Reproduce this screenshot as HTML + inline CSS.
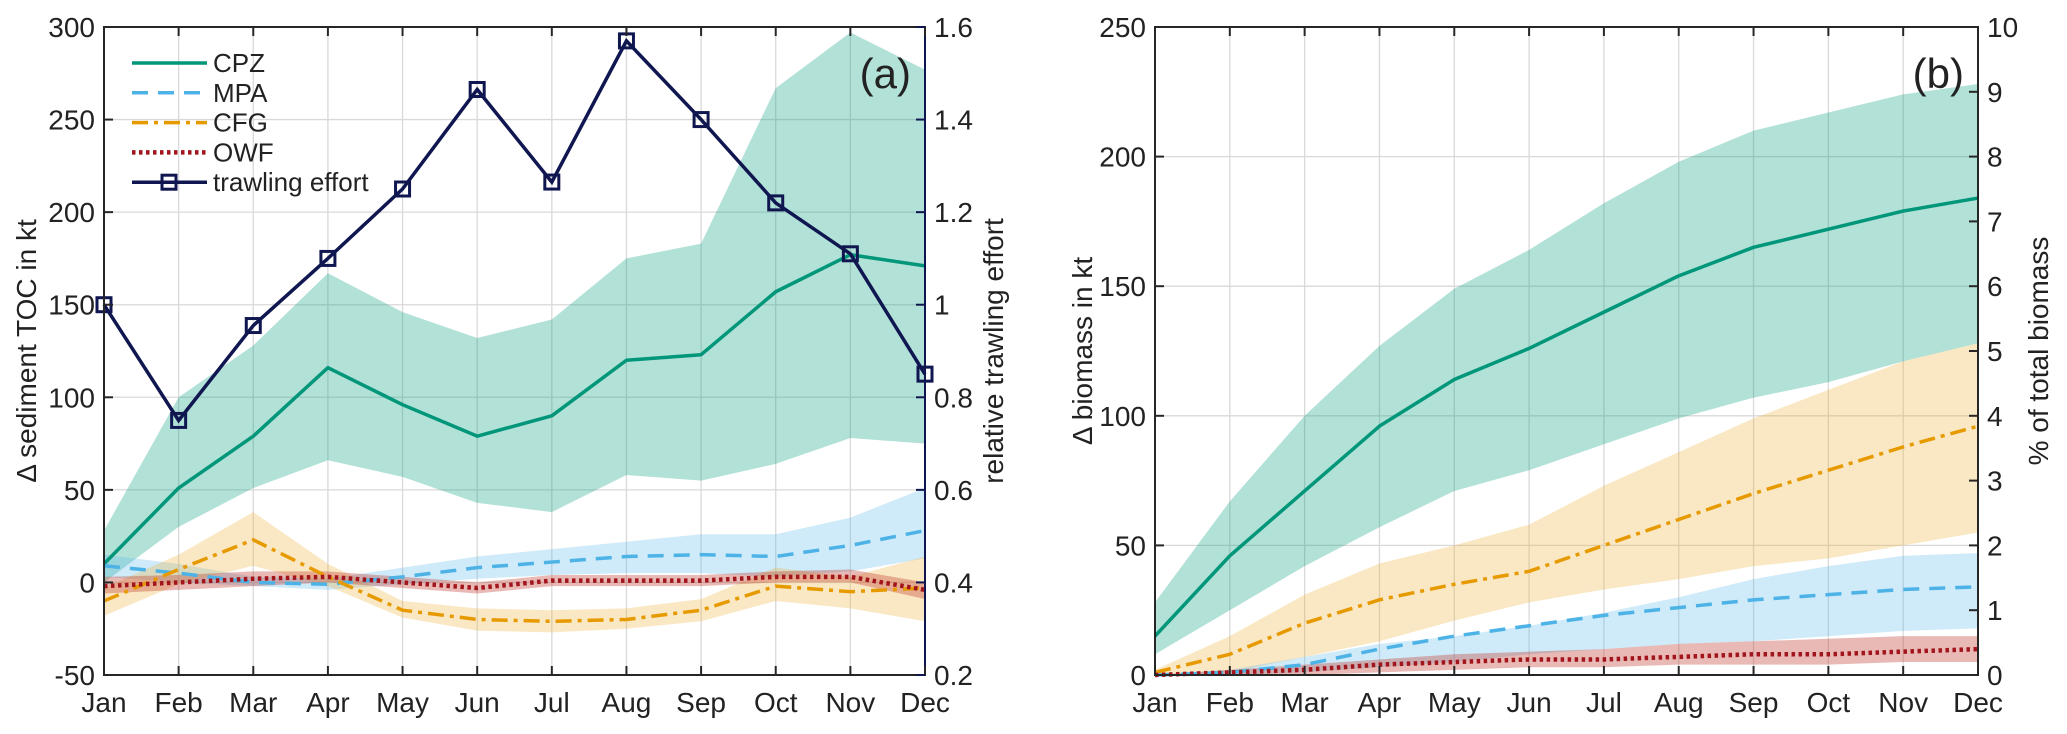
<!DOCTYPE html>
<html><head><meta charset="utf-8"><style>
body{margin:0;background:#fff}
svg{display:block}
text{font-family:"Liberation Sans",sans-serif;fill:#222}
</style></head><body>
<svg id="c" width="2067" height="734" xmlns="http://www.w3.org/2000/svg"></svg>
<script>
const months=["Jan","Feb","Mar","Apr","May","Jun","Jul","Aug","Sep","Oct","Nov","Dec"];
// Panel (a)
const aCpzMean=[10,51,79,116,96,79,90,120,123,157,177,171];
const aCpzUp=[28,100,128,167,146,132,142,175,183,267,297,277];
const aCpzLo=[0,30,51,66,57,43,38,58,55,64,78,75];
const aMpaMean=[9,5,0,-1,3,8,11,14,15,14,20,28];
const aMpaUp=[15,10,3,2,8,14,18,22,26,26,35,51];
const aMpaLo=[3,0,-2,-4,-1,2,4,5,5,3,6,13];
const aCfgMean=[-10,7,23,3,-15,-20,-21,-20,-15,-2,-5,-3];
const aCfgUp=[-3,15,38,10,-10,-14,-15,-14,-9,8,3,14];
const aCfgLo=[-18,-1,9,-2,-19,-26,-27,-25,-21,-10,-14,-21];
const aOwfMean=[-2,0,2,3,0,-3,1,1,1,3,3,-4];
const aOwfUp=[3,4,6,6,3,0,4,4,4,6,7,0];
const aOwfLo=[-6,-4,-2,0,-3,-6,-2,-2,-2,0,0,-9];
const trawl=[1.0,0.75,0.955,1.1,1.25,1.465,1.265,1.57,1.4,1.22,1.11,0.85];
const aLeftTicks=[-50,0,50,100,150,200,250,300];
const aRightTicks=[0.2,0.4,0.6,0.8,1,1.2,1.4,1.6];
// Panel (b)
const bCpzMean=[15,46,71,96,114,126,140,154,165,172,179,184];
const bCpzUp=[28,67,100,127,149,164,182,198,210,217,224,228];
const bCpzLo=[8,25,42,57,71,79,89,99,107,113,121,128];
const bCfgMean=[1,8,20,29,35,40,50,60,70,79,88,96];
const bCfgUp=[2,15,31,43,50,58,73,86,99,110,121,128];
const bCfgLo=[0,1,7,13,21,28,33,37,42,45,50,55];
const bMpaMean=[0,1,4,10,15,19,23,26,29,31,33,34];
const bMpaUp=[0,2,7,12,15,19,24,30,37,42,46,47];
const bMpaLo=[0,0,1,3,5,8,10,12,13,15,17,18];
const bOwfMean=[0,1,2,4,5,6,6,7,8,8,9,10];
const bOwfUp=[0,2,4,6,8,9,10,12,13,14,15,15];
const bOwfLo=[0,0,0,1,2,3,3,4,4,4,5,5];
const bLeftTicks=[0,50,100,150,200,250];
const bRightTicks=[0,1,2,3,4,5,6,7,8,9,10];

const NS="http://www.w3.org/2000/svg";
const svg=document.getElementById('c');
function el(tag,attrs,parent,txt){const e=document.createElementNS(NS,tag);for(const k in attrs)e.setAttribute(k,attrs[k]);if(txt!==undefined)e.textContent=txt;(parent||svg).appendChild(e);return e;}
const COL={cpz:"#00967a",mpa:"#4db3e6",cfg:"#e69a00",owf:"#a3151d",tr:"#0f1650"};
const BAND={cpz:"#009a7a",mpa:"#5fb8e8",cfg:"#f0b33c",owf:"#c0392b"};
const DASH={cpz:"",mpa:"16 10",cfg:"16 6 4 6",owf:"3.5 3.5"};
const T=27,B=675;

function panel(cfg){
  const {L,R,yMin,yMax,r2Min,r2Max,name}=cfg;
  const g=el('g',{},svg);
  
  
  const x=i=>L+(R-L)*i/11;
  const y=v=>B-(v-yMin)/(yMax-yMin)*(B-T);
  const y2=v=>B-(v-r2Min)/(r2Max-r2Min)*(B-T);
  months.forEach((m,i)=>{
    const l=el('line',{x1:x(i),x2:x(i),y1:T,y2:B,stroke:"#d9d9d9","stroke-width":1.3},g);
    
    
  });
  cfg.leftTicks.forEach(v=>{
    const l=el('line',{x1:L,x2:R,y1:y(v),y2:y(v),stroke:"#d9d9d9","stroke-width":1.3},g);
    
    
  });
  cfg.series.forEach(s=>{
    let d="M"+s.up.map((v,i)=>x(i)+","+y(v)).join(" L");
    for(let i=11;i>=0;i--)d+=" L"+x(i)+","+y(s.lo[i]);
    const p=el('path',{d:d+"Z",fill:BAND[s.k],"fill-opacity":s.k==='owf'?0.35:0.3},g);
    
    
  });
  cfg.series.slice().sort((a,b)=>a.z-b.z).forEach(s=>{
    const p=el('polyline',{points:s.mean.map((v,i)=>x(i)+","+y(v)).join(" "),fill:"none",stroke:COL[s.k],"stroke-width":s.k==='owf'?4.5:3.5,"stroke-dasharray":DASH[s.k],"stroke-linejoin":"round"},g);
    
    
  });
  if(cfg.trawl){
    const p=el('polyline',{points:cfg.trawl.map((v,i)=>x(i)+","+y2(v)).join(" "),fill:"none",stroke:COL.tr,"stroke-width":3.5},g);
    
    
    cfg.trawl.forEach((v,i)=>{
      const r=el('rect',{x:x(i)-7,y:y2(v)-7,width:14,height:14,fill:"none",stroke:COL.tr,"stroke-width":3},g);
      
      
    });
  }
  const bx=el('rect',{x:L,y:T,width:R-L,height:B-T,fill:"none",stroke:"#262626","stroke-width":2},g);
  
  
  el('line',{x1:R,x2:R,y1:T,y2:B,stroke:cfg.trawl?COL.tr:"#262626","stroke-width":2},g);
  months.forEach((m,i)=>{
    el('line',{x1:x(i),x2:x(i),y1:B,y2:B-9,stroke:"#262626","stroke-width":2},g);
    el('line',{x1:x(i),x2:x(i),y1:T,y2:T+9,stroke:"#262626","stroke-width":2},g);
    const t=el('text',{x:x(i),y:712,"font-size":28,"text-anchor":"middle"},g,m);
    
    
  });
  cfg.leftTicks.forEach(v=>{
    el('line',{x1:L,x2:L+9,y1:y(v),y2:y(v),stroke:"#262626","stroke-width":2},g);
    const t=el('text',{x:L-9,y:y(v)+10,"font-size":28,"text-anchor":"end"},g,String(v));
    
    
  });
  cfg.rightTicks.forEach(v=>{
    el('line',{x1:R,x2:R-9,y1:y2(v),y2:y2(v),stroke:cfg.trawl?COL.tr:"#262626","stroke-width":2},g);
    const t=el('text',{x:R+9,y:y2(v)+10,"font-size":28,"text-anchor":"start",fill:cfg.trawl?COL.tr:"#222"},g,String(v));
    
    
  });
  const t1=el('text',{x:0,y:0,"font-size":28,"text-anchor":"middle",transform:`translate(${cfg.ltX},351) rotate(-90)`},g,cfg.lTitle);
  
  
  const t2=el('text',{x:0,y:0,"font-size":28,"text-anchor":"middle",fill:cfg.trawl?COL.tr:"#222",transform:`translate(${cfg.rtX},351) rotate(-90)`},g,cfg.rTitle);
  
  
  const pl=el('text',{x:R-14,y:88,"font-size":42,"text-anchor":"end"},g,cfg.label);
  
  
}

panel({name:'panel-a',L:104,R:925,yMin:-50,yMax:300,r2Min:0.2,r2Max:1.6,leftTicks:aLeftTicks,rightTicks:aRightTicks,
  lTitle:"Δ sediment TOC in kt",rTitle:"relative trawling effort",ltX:36,rtX:1003,label:"(a)",trawl:trawl,
  series:[{k:'cpz',mean:aCpzMean,up:aCpzUp,lo:aCpzLo,z:1},{k:'mpa',mean:aMpaMean,up:aMpaUp,lo:aMpaLo,z:2},
          {k:'cfg',mean:aCfgMean,up:aCfgUp,lo:aCfgLo,z:3},{k:'owf',mean:aOwfMean,up:aOwfUp,lo:aOwfLo,z:4}]});
panel({name:'panel-b',L:1155,R:1978,yMin:0,yMax:250,r2Min:0,r2Max:10,leftTicks:bLeftTicks,rightTicks:bRightTicks,
  lTitle:"Δ biomass in kt",rTitle:"% of total biomass",ltX:1092,rtX:2048,label:"(b)",
  series:[{k:'cpz',mean:bCpzMean,up:bCpzUp,lo:bCpzLo,z:1},{k:'cfg',mean:bCfgMean,up:bCfgUp,lo:bCfgLo,z:2},
          {k:'mpa',mean:bMpaMean,up:bMpaUp,lo:bMpaLo,z:3},{k:'owf',mean:bOwfMean,up:bOwfUp,lo:bOwfLo,z:4}]});

const lg=el('g',{},svg);


const entries=[["CPZ",'cpz'],["MPA",'mpa'],["CFG",'cfg'],["OWF",'owf'],["trawling effort",'tr']];
entries.forEach((e,i)=>{
  const yy=63+i*29.8;
  const ln=el('line',{x1:132,x2:207,y1:yy,y2:yy,stroke:COL[e[1]],"stroke-width":e[1]==='owf'?4.5:3.5,"stroke-dasharray":DASH[e[1]]||""},lg);
  
  
  if(e[1]==='tr')el('rect',{x:162,y:yy-7,width:14,height:14,fill:"none",stroke:COL.tr,"stroke-width":3},lg);
  const t=el('text',{x:213,y:yy+9,"font-size":26},lg,e[0]);
  
  
});
</script>
</body></html>
